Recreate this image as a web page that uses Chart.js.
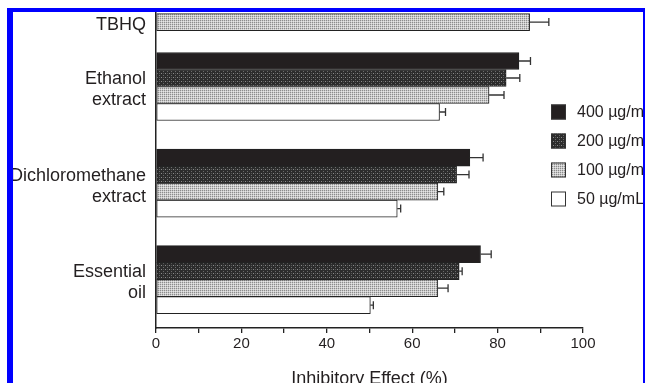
<!DOCTYPE html>
<html>
<head>
<meta charset="utf-8">
<script src="https://cdn.jsdelivr.net/npm/chart.js@4.4.1/dist/chart.umd.min.js"></script>
<style>
    html, body { margin: 0; padding: 0; background: #fff; overflow: hidden; }
    body { width: 646px; height: 383px; position: relative; }
    #frame {
        position: absolute; left: 7px; top: 8px;
        width: 630px; height: 380px;
        border-left: 6px solid #0000ff;
        border-top: 4px solid #0000ff;
        border-right: 2px solid #0000ff;
        overflow: hidden;
    }
    #chart { position: absolute; left: -13px; top: -12px; }
</style>
</head>
<body>
<div id="frame"><canvas id="chart" width="646" height="420"></canvas></div>
<script>
// samples and their rows on the category axis
const sampleLabels = [['TBHQ'], ['Ethanol', 'extract'], ['Dichloromethane', 'extract'], ['Essential', 'oil']];
const sampleRows = [0, 2, 5, 8];
const rowCount = 10;

const concentrations = ['400 \u00b5g/mL', '200 \u00b5g/mL', '100 \u00b5g/mL', '50 \u00b5g/mL'];

// inhibitory effect (%) per sample
const values400 = [null, 85.0, 73.5, 76.0];
const values200 = [null, 82.0, 70.4, 71.0];
const values100 = [87.5, 78.0, 66.0, 66.0];
const values50 = [null, 66.4, 56.5, 50.2];

// one-sided error bars
const errors400 = [null, 2.7, 3.1, 2.5];
const errors200 = [null, 3.2, 2.9, 0.7];
const errors100 = [4.5, 3.5, 1.4, 2.4];
const errors50 = [null, 1.4, 0.8, 0.7];

const xTickLabels = [0, 20, 40, 60, 80, 100];

const FONT = "'Liberation Sans', Arial, sans-serif";
const INK = '#231f20';

function toRows(arr, empty) {
    const out = [];
    for (let i = 0; i < rowCount; i++) out.push(empty);
    sampleRows.forEach((r, i) => { out[r] = arr[i]; });
    return out;
}

function makePattern(size, bg, dots) {
    const c = document.createElement('canvas');
    c.width = size; c.height = size;
    const g = c.getContext('2d');
    g.fillStyle = bg;
    g.fillRect(0, 0, size, size);
    dots.forEach(d => {
        g.fillStyle = d[2];
        g.fillRect(d[0], d[1], 1, 1);
    });
    return g.createPattern(c, 'repeat');
}

const pattern200 = makePattern(4, '#2c2c2c', [[1, 1, '#8a8a8a'], [3, 3, '#6a6a6a'], [3, 1, '#555555']]);
const pattern100 = makePattern(2, '#cacaca', [[0, 0, '#8c8c8c'], [1, 1, '#e6e6e6']]);

const fills = [INK, pattern200, pattern100, '#ffffff'];
const seriesValues = [values400, values200, values100, values50];
const seriesErrors = [errors400, errors200, errors100, errors50];

const errorBarPlugin = {
    id: 'errorBars',
    afterDatasetsDraw(chart) {
        const ctx = chart.ctx;
        const xScale = chart.scales.x;
        ctx.save();
        chart.data.datasets.forEach((ds, i) => {
            const meta = chart.getDatasetMeta(i);
            meta.data.forEach((bar, j) => {
                const v = ds.data[j];
                const e = ds.errors[j];
                if (v === null || e === null) return;
                const x1 = xScale.getPixelForValue(v + e);
                ctx.strokeStyle = '#333';
                ctx.lineWidth = 1.3;
                ctx.beginPath();
                ctx.moveTo(bar.x, bar.y);
                ctx.lineTo(x1, bar.y);
                ctx.moveTo(x1, bar.y - 4);
                ctx.lineTo(x1, bar.y + 4);
                ctx.stroke();
            });
        });
        ctx.restore();
    }
};

const legendPlugin = {
    id: 'boxLegend',
    afterDraw(chart) {
        const ctx = chart.ctx;
        ctx.save();
        ctx.font = '16px ' + FONT;
        ctx.textBaseline = 'middle';
        chart.data.datasets.forEach((ds, i) => {
            const cy = 112 + i * 29;
            ctx.fillStyle = ds.backgroundColor;
            ctx.fillRect(551, cy - 7.5, 15, 15);
            ctx.strokeStyle = '#333';
            ctx.lineWidth = 1;
            ctx.strokeRect(551.5, cy - 7, 14, 14);
            ctx.fillStyle = INK;
            ctx.fillText(ds.label, 577, cy + 1);
        });
        ctx.restore();
    }
};

const ctx = document.getElementById('chart').getContext('2d');
new Chart(ctx, {
    type: 'bar',
    data: {
        labels: toRows(sampleLabels, ''),
        datasets: concentrations.map((label, i) => ({
            label: label,
            data: toRows(seriesValues[i], null),
            errors: toRows(seriesErrors[i], null),
            backgroundColor: fills[i],
            borderColor: '#222',
            borderWidth: 1,
            borderSkipped: false,
            barThickness: 17,
            skipNull: true
        }))
    },
    options: {
        indexAxis: 'y',
        responsive: false,
        animation: false,
        devicePixelRatio: 1,
        layout: { padding: { top: 6, right: 63, left: 0, bottom: 0 } },
        scales: {
            x: {
                min: 0,
                max: 100,
                ticks: {
                    stepSize: 10,
                    color: INK,
                    padding: 2,
                    font: { family: FONT, size: 15 },
                    callback: v => xTickLabels.includes(v) ? v : ''
                },
                grid: { drawOnChartArea: false, drawTicks: true, tickLength: 5, color: '#222', lineWidth: 1.3 },
                border: { color: '#222', width: 1.5 },
                title: {
                    display: true,
                    text: 'Inhibitory Effect (%)',
                    color: INK,
                    font: { family: FONT, size: 18 },
                    padding: { top: 0, bottom: 30 }
                },
                afterFit: s => { s.height = 92; }
            },
            y: {
                ticks: {
                    autoSkip: false,
                    color: INK,
                    padding: 10,
                    labelOffset: 3,
                    font: { family: FONT, size: 18, lineHeight: 1.17 }
                },
                grid: { display: false, drawTicks: false },
                border: { color: '#222', width: 1.5 },
                afterFit: s => {
                    s.width = 156;
                    s.paddingTop = 0;
                    s.paddingBottom = 0;
                }
            }
        },
        plugins: {
            legend: { display: false },
            tooltip: { enabled: false }
        }
    },
    plugins: [errorBarPlugin, legendPlugin]
});
</script>
</body>
</html>
